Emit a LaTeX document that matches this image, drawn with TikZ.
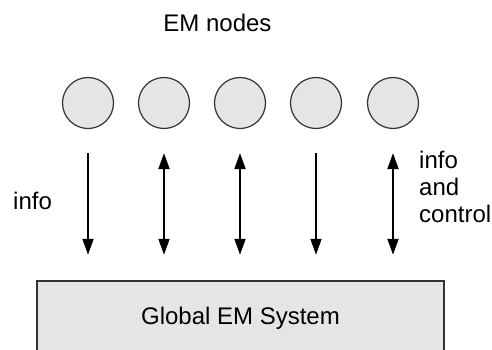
\documentclass[tikz,border=0pt]{standalone}
\usepackage{fontspec}
\setmainfont{Liberation Sans}
\usetikzlibrary{arrows.meta}
\tikzset{
  em node/.style={circle, draw=black!80, fill=black!10, line width=1.2pt, minimum size=51pt, inner sep=0pt},
  system box/.style={draw=black!80, fill=black!10, line width=1.5pt, minimum width=407pt, minimum height=74pt, inner sep=0pt},
  plain label/.style={inner sep=0pt, font=\fontsize{24}{27}\selectfont},
  flow line/.style={line width=2pt, shorten <=24pt, shorten >=25.5pt},
  >={Triangle[length=16pt, width=11pt]},
}

\begin{document}
\begin{tikzpicture}[x=1pt, y=-1pt]
  \useasboundingbox (0,0) rectangle (492,350);
  \clip (0,0) rectangle (492,350);
  \node[plain label, anchor=base] (title) at (217.5,32) {EM nodes};
  % the five EM nodes
  \node[em node] (n1) at (88,103) {};
  \node[em node] (n2) at (164,103) {};
  \node[em node] (n3) at (240,103) {};
  \node[em node] (n4) at (316,103) {};
  \node[em node] (n5) at (393,103) {};
  \node[system box, plain label] (sys) at (240.5,318) {Global EM System};
  % flows to the global system
  \draw[flow line, ->] (n1.south) -- (n1.south |- sys.north);
  \draw[flow line, <->] (n2.south) -- (n2.south |- sys.north);
  \draw[flow line, <->] (n3.south) -- (n3.south |- sys.north);
  \draw[flow line, ->] (n4.south) -- (n4.south |- sys.north);
  \draw[flow line, <->] (n5.south) -- (n5.south |- sys.north);
  \node[plain label, anchor=base west] (info) at (13,209) {info};
  \node[plain label, anchor=base west, align=left] (ctrl) at (419,222) {info\\and\\control};
\end{tikzpicture}
\end{document}
